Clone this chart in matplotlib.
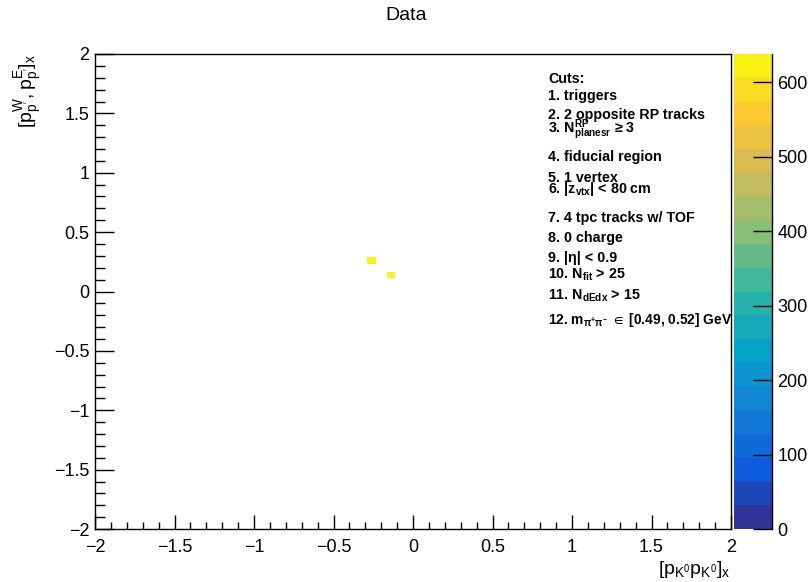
import numpy as np
import matplotlib
matplotlib.use("Agg")
import matplotlib.pyplot as plt
from matplotlib.colors import LinearSegmentedColormap, BoundaryNorm
from matplotlib.ticker import MultipleLocator

plt.rcParams['font.family'] = ['Liberation Sans', 'DejaVu Sans']
plt.rcParams['mathtext.fontset'] = 'custom'
plt.rcParams['mathtext.rm'] = 'Liberation Sans'
plt.rcParams['mathtext.it'] = 'Liberation Sans'
plt.rcParams['mathtext.bf'] = 'Liberation Sans:bold'
plt.rcParams['mathtext.default'] = 'regular'
plt.rcParams['mathtext.fallback'] = 'stixsans'

# filled bins of the 2D histogram (bin centres) and their counts
cell_x = [-0.26, -0.14]
cell_y = [0.25, 0.13]
cell_counts = [638, 626]
n_bins = 100
hist_range = [-2, 2]
z_max = 638
n_levels = 20
cbar_ticks = [0, 100, 200, 300, 400, 500, 600]

cut_lines = [
    "Cuts:",
    "1. triggers",
    "2. 2 opposite RP tracks",
    "3. $\\mathbf{N^{RP}_{planesr}}$ \u2265 3",
    "4. fiducial region",
    "5. 1 vertex",
    "6. |$\\mathbf{z_{vtx}}$| < 80 cm",
    "7. 4 tpc tracks w/ TOF",
    "8. 0 charge",
    "9. |\u03b7| < 0.9",
    "10. $\\mathbf{N_{fit}}$ > 25",
    "11. $\\mathbf{N_{dEdx}}$ > 15",
    "12. $\\mathbf{m_{\\pi^{+}\\pi^{-}}}$ $\\in$ [0.49, 0.52] GeV",
]
cut_y = [79, 96, 115, 130, 157, 178, 189, 218, 238, 258, 275, 296, 320]

# ROOT kBird palette
stops = [0.0, 0.125, 0.25, 0.375, 0.5, 0.625, 0.75, 0.875, 1.0]
red = [0.2082, 0.0592, 0.0780, 0.0232, 0.1802, 0.5301, 0.8186, 0.9956, 0.9764]
green = [0.1664, 0.3599, 0.5041, 0.6419, 0.7178, 0.7492, 0.7328, 0.7862, 0.9832]
blue = [0.5293, 0.8684, 0.8385, 0.7914, 0.6425, 0.4662, 0.3499, 0.1968, 0.0539]
bird = LinearSegmentedColormap.from_list(
    "bird", list(zip(stops, zip(red, green, blue))))
levels = np.linspace(0, z_max, n_levels + 1)
cmap = matplotlib.colors.ListedColormap(
    bird((np.arange(n_levels) + 0.5) / n_levels))
norm = BoundaryNorm(levels, cmap.N)

W, H = 812, 582
fig = plt.figure(figsize=(W / 100, H / 100), dpi=100)
ax = fig.add_axes([95 / W, 1 - 529 / H, 636 / W, 475 / H])
cax = fig.add_axes([734 / W, 1 - 529 / H, 38 / W, 475 / H])

h, xe, ye = np.histogram2d(cell_x, cell_y, bins=n_bins,
                           range=[hist_range, hist_range], weights=cell_counts)
h = np.ma.masked_where(h <= 0, h)
ax.pcolormesh(xe, ye, h.T, cmap=cmap, norm=norm, edgecolors='face',
              linewidth=1.2)

ax.set_xlim(-2, 2)
ax.set_ylim(-2, 2)
ax.xaxis.set_major_locator(MultipleLocator(0.5))
ax.xaxis.set_minor_locator(MultipleLocator(0.1))
ax.yaxis.set_major_locator(MultipleLocator(0.5))
ax.yaxis.set_minor_locator(MultipleLocator(0.1))
ax.tick_params(axis='x', which='major', direction='in', length=10, width=1,
               labelsize=13, pad=7)
ax.tick_params(axis='x', which='minor', direction='in', length=5, width=1)
ax.tick_params(axis='y', which='major', direction='in', length=14, width=1,
               labelsize=13, pad=4)
ax.tick_params(axis='y', which='minor', direction='in', length=7, width=1)
ax.xaxis.set_major_formatter(matplotlib.ticker.FuncFormatter(
    lambda v, p: ("%g" % v).replace("-", "\u2212")))
ax.yaxis.set_major_formatter(matplotlib.ticker.FuncFormatter(
    lambda v, p: ("%g" % v).replace("-", "\u2212")))
for s in ax.spines.values():
    s.set_linewidth(1)

# palette axis
cax.imshow(np.linspace(0, z_max, 400).reshape(-1, 1), cmap=cmap, norm=norm,
           aspect='auto', origin='lower', extent=[0, 1, 0, z_max])
cax.set_ylim(0, z_max)
cax.set_xticks([])
cax.yaxis.tick_right()
cax.set_yticks(cbar_ticks)
cax.tick_params(axis='y', direction='in', length=14, width=1,
                labelsize=13, pad=4)
for k in ['top', 'left', 'bottom']:
    cax.spines[k].set_visible(False)
cax.spines['right'].set_linewidth(1)

fig.text(406 / W, 1 - 15 / H, "Data", ha='center', va='center', fontsize=14)
fig.text(731 / W, 1 - 580 / H,
         r'$[p_{K^{0}}p_{K^{0}}]_{x}$', ha='right', va='bottom', fontsize=14)
fig.text(12 / W, 1 - 54 / H,
         r"$[p^{W}_{p'},p^{E}_{p'}]_{x}$", ha='left', va='top',
         rotation=90, fontsize=14)

for i, (txt, yy) in enumerate(zip(cut_lines, cut_y)):
    size = 9.9 if i == len(cut_lines) - 1 else 10.3
    fig.text(548 / W, 1 - yy / H, txt, ha='left', va='center',
             fontsize=size, fontweight='bold')

fig.savefig("out.png", dpi=100)
